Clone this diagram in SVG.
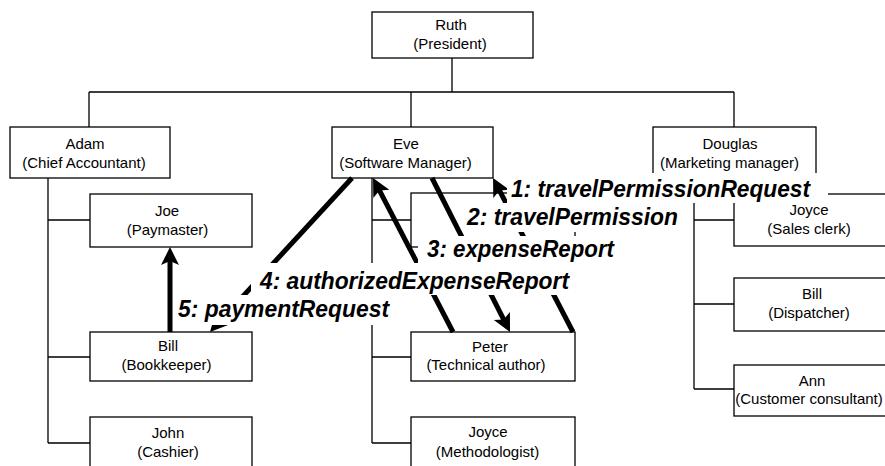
<svg xmlns="http://www.w3.org/2000/svg" width="885" height="466" viewBox="0 0 885 466">
<style>
.box{fill:#fff;stroke:#000;stroke-width:1.3}
.tl{fill:none;stroke:#000;stroke-width:1.3}
.nt{font-family:"Liberation Sans",Arial,sans-serif;font-size:15px;text-anchor:middle;fill:#000}
.msg{fill:none;stroke:#000;stroke-width:5;marker-end:url(#ah)}
.lbg{fill:#fff;stroke:none}
.lt{font-family:"Liberation Sans",Arial,sans-serif;font-size:23px;font-weight:bold;font-style:italic;fill:#000}
</style>
<defs>
<marker id="ah" markerUnits="userSpaceOnUse" markerWidth="40" markerHeight="40" refX="0" refY="0" orient="auto" overflow="visible">
<path d="M8,0 L-10,-9 L-6,0 L-10,9 Z" fill="#000"/>
</marker>
</defs>
<rect width="885" height="466" fill="#fff"/>
<g id="tree-lines">
<path class="tl" d="M452,58 V92 M89,92 H734 M89,92 V127 M411,92 V127 M734,92 V127"/>
<path class="tl" d="M48,178 V443 M48,220 H90 M48,357 H90 M48,443 H90"/>
<path class="tl" d="M372,178 V443 M372,220 H411 M372,357 H411 M372,443 H411"/>
<path class="tl" d="M694,178 V389 M694,220 H734 M694,304 H734 M694,389 H734"/>
</g>
<g id="ruth"><rect class="box" x="372" y="12" width="161" height="46"/><text class="nt" x="451" y="30">Ruth</text><text class="nt" x="450" y="49">(President)</text></g>
<g id="adam"><rect class="box" x="10" y="127" width="160" height="51"/><text class="nt" x="85" y="149">Adam</text><text class="nt" x="84" y="168">(Chief Accountant)</text></g>
<g id="eve"><rect class="box" x="332" y="127" width="161" height="51"/><text class="nt" x="406" y="149">Eve</text><text class="nt" x="405.5" y="168">(Software Manager)</text></g>
<g id="douglas"><rect class="box" x="653" y="127" width="163" height="51"/><text class="nt" x="730" y="149">Douglas</text><text class="nt" x="729.5" y="168">(Marketing manager)</text></g>
<g id="joe"><rect class="box" x="90" y="194" width="162" height="53"/><text class="nt" x="167" y="216">Joe</text><text class="nt" x="167.5" y="235">(Paymaster)</text></g>
<g id="bill-bookkeeper"><rect class="box" x="90" y="332" width="162" height="49"/><text class="nt" x="168" y="351">Bill</text><text class="nt" x="166.5" y="370">(Bookkeeper)</text></g>
<g id="john"><rect class="box" x="90" y="417" width="162" height="53"/><text class="nt" x="168" y="437.5">John</text><text class="nt" x="168" y="456.5">(Cashier)</text></g>
<g id="eve-staff"><rect class="box" x="411" y="193" width="164" height="54"/></g>
<g id="peter"><rect class="box" x="411" y="332" width="164" height="49"/><text class="nt" x="490" y="351.5">Peter</text><text class="nt" x="486" y="370">(Technical author)</text></g>
<g id="joyce-methodologist"><rect class="box" x="411" y="417" width="164" height="53"/><text class="nt" x="488" y="437">Joyce</text><text class="nt" x="487.5" y="456.5">(Methodologist)</text></g>
<g id="joyce-sales"><rect class="box" x="734" y="194" width="165" height="52"/><text class="nt" x="809" y="215">Joyce</text><text class="nt" x="809" y="234">(Sales clerk)</text></g>
<g id="bill-dispatcher"><rect class="box" x="734" y="278" width="165" height="53"/><text class="nt" x="812" y="299">Bill</text><text class="nt" x="809" y="318">(Dispatcher)</text></g>
<g id="ann"><rect class="box" x="734" y="365" width="165" height="51"/><text class="nt" x="812" y="386">Ann</text><text class="nt" x="809" y="404">(Customer consultant)</text></g>
<g id="connectors">
<path class="msg" d="M573,332 L496.7,185.1"/>
<path class="msg" d="M432,178 L506.4,324.9"/>
<path class="msg" d="M453,332 L376.7,185.1"/>
<path class="msg" d="M352,178 L215.4,326.1"/>
<path class="msg" d="M170,332 L170,255"/>
</g>
<g id="labels">
<rect class="lbg" x="507" y="173" width="321" height="30"/>
<text class="lt" x="511" y="197" textLength="299" lengthAdjust="spacingAndGlyphs">1: travelPermissionRequest</text>
<rect class="lbg" x="463" y="203" width="227" height="29"/>
<text class="lt" x="467" y="225" textLength="211" lengthAdjust="spacingAndGlyphs">2: travelPermission</text>
<rect class="lbg" x="418" y="236" width="210" height="27"/>
<text class="lt" x="427" y="257" textLength="187" lengthAdjust="spacingAndGlyphs">3: expenseReport</text>
<rect class="lbg" x="251" y="263" width="325" height="32"/>
<text class="lt" x="260" y="289" textLength="309" lengthAdjust="spacingAndGlyphs">4: authorizedExpenseReport</text>
<rect class="lbg" x="174" y="295" width="221" height="30"/>
<text class="lt" x="178" y="317" textLength="211" lengthAdjust="spacingAndGlyphs">5: paymentRequest</text>
</g>
</svg>
